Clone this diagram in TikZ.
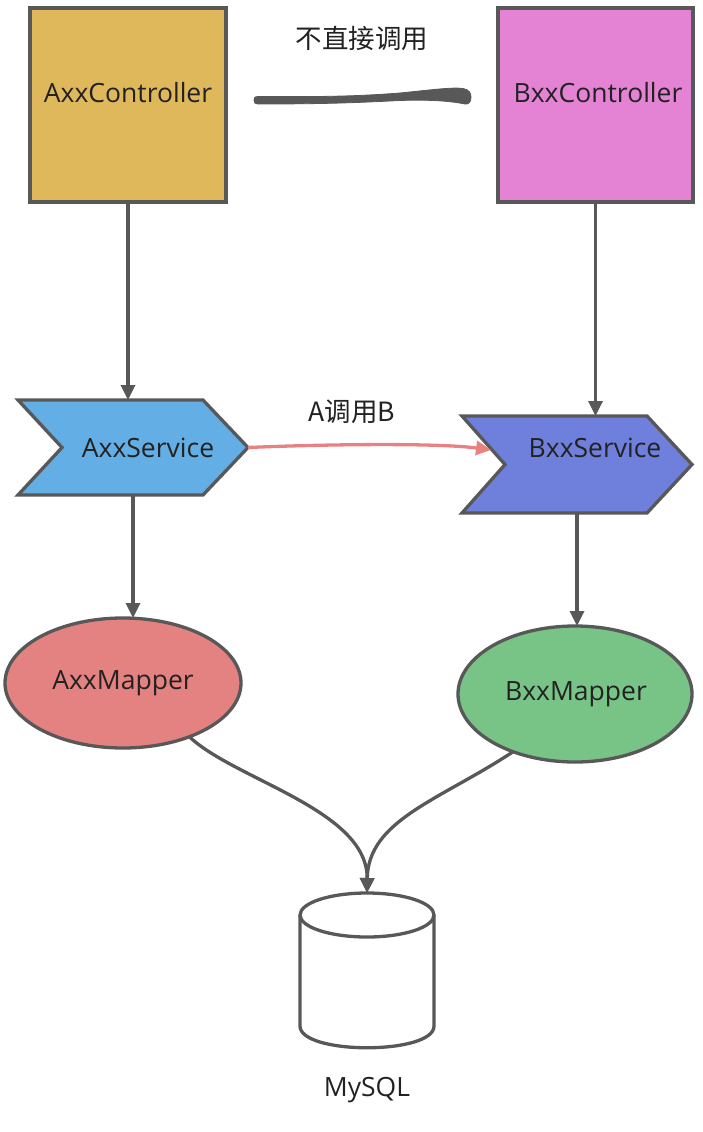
\documentclass[tikz,border=0pt]{standalone}
\usepackage{fontspec}
\setmainfont{Open Sans}
\newfontfamily\cjk{Noto Sans CJK SC}
\usepackage{tikz}
\usetikzlibrary{shapes.geometric}
\usetikzlibrary{arrows.meta}
\definecolor{linegray}{RGB}{88,88,88}
\definecolor{textgray}{RGB}{34,34,34}
\definecolor{ctrlA}{RGB}{224,184,92}
\definecolor{ctrlB}{RGB}{228,130,212}
\definecolor{svcA}{RGB}{99,174,228}
\definecolor{svcB}{RGB}{111,127,220}
\definecolor{mapA}{RGB}{228,129,129}
\definecolor{mapB}{RGB}{120,196,135}
\definecolor{callred}{RGB}{232,130,130}
\tikzset{
every picture/.style={line width=3.3pt, >={Triangle[length=15pt,width=14pt]}},
%%%%%%%%%%  Node styles
controller/.style={rectangle, draw=linegray, inner sep=0, outer sep=0,
                   minimum width=196, minimum height=194},
servicebox/.style={rectangle, inner sep=0, outer sep=0,
                   minimum width=230, minimum height=95},
mapper/.style={ellipse, draw=linegray, inner sep=0, outer sep=0,
               minimum width=236, minimum height=130},
database/.style={rectangle, inner sep=0, outer sep=0,
                 minimum width=134, minimum height=155},
label/.style={inner sep=0, text=textgray, font=\fontsize{26.5}{30}\selectfont},
cjklabel/.style={inner sep=0, text=textgray, font=\cjk\fontsize{26.5}{30}\selectfont},
%%%% different line styles:
chevron/.style={draw=linegray, line join=miter},
flow/.style={->, draw=linegray},
call/.style={->, draw=callred},
brush/.style={fill=linegray, draw=linegray, line width=0.8pt, line join=round},
}

\begin{document}
\begin{tikzpicture}[x=1pt, y=-1pt]
\useasboundingbox (0,0) rectangle (703,1132);
%%%%%%% controllers
\node[controller, fill=ctrlA] (actrl) at (128,105) {};
\node[controller, fill=ctrlB, minimum width=195] (bctrl) at (595.5,105) {};
\node[label] (actrltxt) at (128,93) {AxxController};
\node[label] (bctrltxt) at (598,93) {BxxController};
\node[cjklabel] (nodirect) at (362,38) {不直接调用};
% hand drawn stroke between the controllers
\coordinate (brushL) at (254,100);
\coordinate (brushR) at (471,97);
\draw[brush] (brushL) .. controls (254,97) and (255,96.5) .. (258,96.5)
     .. controls (330,97) and (360,96) .. (400,93)
     .. controls (430,90) and (452,87) .. (463,88.5)
     .. controls (469,89.5) and (471,93) .. (brushR)
     .. controls (471,102) and (469,104.5) .. (465,104)
     .. controls (450,101) and (430,99.5) .. (400,100.5)
     .. controls (360,102.5) and (330,104) .. (258,104)
     .. controls (255,104) and (254,103) .. (brushL) -- cycle;
%%%%%%% services
\node[servicebox] (asvc) at (133,447.5) {};
\draw[chevron, fill=svcA] (asvc.north west) -- ([xshift=-45]asvc.north east)
     -- (asvc.east) -- ([xshift=-45]asvc.south east) -- (asvc.south west)
     -- ([xshift=44]asvc.west) -- cycle;
\node[servicebox, minimum height=97] (bsvc) at (577,464.5) {};
\draw[chevron, fill=svcB] (bsvc.north west) -- ([xshift=-45]bsvc.north east)
     -- (bsvc.east) -- ([xshift=-45]bsvc.south east) -- (bsvc.south west)
     -- ([xshift=43]bsvc.west) -- cycle;
\node[label] (asvctxt) at (148,448) {AxxService};
\node[label] (bsvctxt) at (595,448) {BxxService};
\node[cjklabel] (atob) at (352,412) {A调用B};
\coordinate (bsvcin) at (491,450);
%%%%%%% mappers
\node[mapper, fill=mapA] (amap) at (123,683) {};
\node[mapper, fill=mapB, minimum width=234, minimum height=136] (bmap) at (575,694) {};
\node[label] (amaptxt) at (123,683) {AxxMapper};
\node[label] (bmaptxt) at (576,694) {BxxMapper};
%%%%%%% database
\node[database] (db) at (367,970.5) {};
\draw[draw=linegray, fill=white] (300,915) -- (300,1026)
     .. controls (300,1055) and (434,1055) .. (434,1026) -- (434,915);
\draw[draw=linegray] (367,915) ellipse (67 and 22);
\node[label] (dbtxt) at (367,1090) {MySQL};
%%%%%%% connectors
\draw[flow] (actrl.south) -- (actrl.south |- asvc.north);
\draw[flow] (bctrl.south) -- (bctrl.south |- bsvc.north);
\draw[flow] (asvc.south) -- (asvc.south |- amap.north);
\draw[flow] (bsvc.south) -- (bsvc.south |- bmap.north);
\draw[call] (asvc.east) .. controls (330,444) and (440,443) .. (bsvcin);
\draw[flow] (amap.-39) .. controls (235,780) and (368,810) .. (db.north);
\draw[flow] (bmap.-137) .. controls (440,800) and (368,820) .. (db.north);
\end{tikzpicture}
\end{document}
